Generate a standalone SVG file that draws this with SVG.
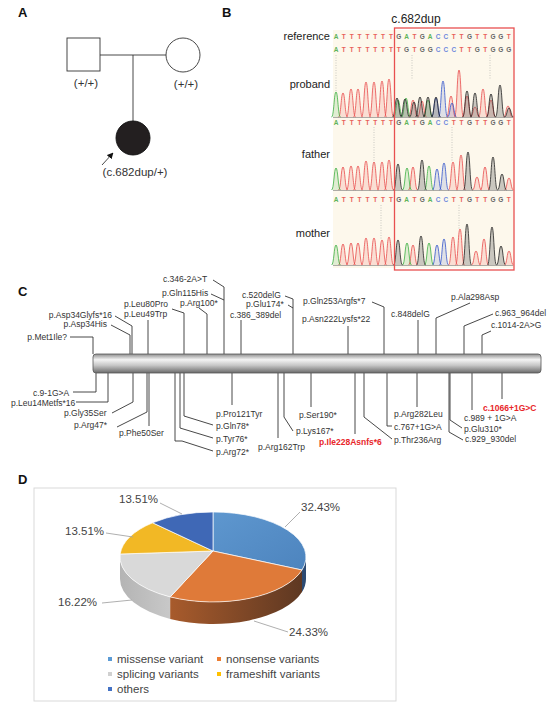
<svg xmlns="http://www.w3.org/2000/svg" width="550" height="707" viewBox="0 0 550 707">
<style>
text{font-family:"Liberation Sans",Arial,sans-serif}
.lbl{font-size:13px;font-weight:bold;fill:#111}
.ped{fill:none;stroke:#333;stroke-width:0.9}
.pt{font-size:11.5px;fill:#333}
.bt{font-size:11px;fill:#222}
.seq{font-size:6.5px;font-weight:bold;text-anchor:middle}
.A{fill:#5fb45a}.T{fill:#e8605a}.G{fill:#666}.C{fill:#7088dd}
.pg{fill:#3cb043;fill-opacity:.15;stroke:#3cb043;stroke-width:.8}
.pr{fill:#e84c4c;fill-opacity:.15;stroke:#e84c4c;stroke-width:.8}
.pk{fill:#555;fill-opacity:.3;stroke:#222;stroke-width:.8}
.pb{fill:#3355cc;fill-opacity:.15;stroke:#3355cc;stroke-width:.8}
.dot{stroke:#aaa;stroke-width:.6;stroke-dasharray:1 1.5}
.pc{font-size:8.5px;fill:#333}
.red{fill:#e8262a;font-weight:bold}
.ld{fill:none;stroke:#333;stroke-width:0.9}
.pl{font-size:11.5px;fill:#444}
.pld{fill:none;stroke:#a6a6a6;stroke-width:0.9}
.top{stroke:#fff;stroke-width:0.7}
</style>
<defs>
<linearGradient id="bar" x1="0" y1="0" x2="0" y2="1">
<stop offset="0" stop-color="#8e8e8e"/>
<stop offset="0.3" stop-color="#f4f4f4"/>
<stop offset="0.6" stop-color="#c6c6c6"/>
<stop offset="1" stop-color="#6a6a6a"/>
</linearGradient>
<linearGradient id="oside" x1="170" y1="0" x2="302" y2="0" gradientUnits="userSpaceOnUse">
<stop offset="0" stop-color="#a85b2c"/>
<stop offset="1" stop-color="#5e3822"/>
</linearGradient>
<linearGradient id="gside" x1="120" y1="0" x2="170" y2="0" gradientUnits="userSpaceOnUse">
<stop offset="0" stop-color="#b4b4b4"/>
<stop offset="1" stop-color="#c8c8c8"/>
</linearGradient>
<linearGradient id="btop" x1="0" y1="0" x2="1" y2="1">
<stop offset="0" stop-color="#5e97cf"/>
<stop offset="1" stop-color="#4d84be"/>
</linearGradient>
<marker id="ah" viewBox="0 0 10 10" refX="9" refY="5" markerWidth="7" markerHeight="7" orient="auto">
<path d="M0,0 L10,5 L0,10 z" fill="#111"/>
</marker>
</defs>
<rect width="550" height="707" fill="#fff"/>

<!-- Panel A -->
<text class="lbl" x="18" y="17">A</text>
<g id="connectors-A">
<path class="ped" d="M100,55 H166 M133,55 V121"/>
<path class="ped" d="M102,165 L113,153" marker-end="url(#ah)"/>
</g>
<g id="father-A"><rect class="ped" x="67" y="38" width="33" height="33"/><text class="pt" x="86" y="87" text-anchor="middle">(+/+)</text></g>
<g id="mother-A"><circle class="ped" cx="183" cy="55" r="17"/><text class="pt" x="186" y="88" text-anchor="middle">(+/+)</text></g>
<g id="proband-A"><circle cx="133" cy="138" r="17" fill="#231f20" stroke="#111" stroke-width="0.9"/><text class="pt" x="135" y="176" text-anchor="middle">(c.682dup/+)</text></g>

<!-- Panel B -->
<text class="lbl" x="222" y="17">B</text>
<g id="chromatogram">
<rect x="333" y="30" width="181" height="238" fill="#fdf8ec"/>
<text class="bt" x="330" y="40" text-anchor="end">reference</text>
<text class="bt" x="330" y="88" text-anchor="end">proband</text>
<text class="bt" x="330" y="158" text-anchor="end">father</text>
<text class="bt" x="330" y="237" text-anchor="end">mother</text>
<text x="416" y="23" font-size="12" fill="#222" text-anchor="middle">c.682dup</text>
<path class="dot" d="M336,55 V92 M412,55 V80 M490,55 V80 M374,127 V165 M452,127 V162 M381,205 V240 M459,205 V230"/>
<text class="seq" y="39"><tspan class="A" x="336">A</tspan><tspan class="T" x="343.85">T</tspan><tspan class="T" x="351.7">T</tspan><tspan class="T" x="359.55">T</tspan><tspan class="T" x="367.4">T</tspan><tspan class="T" x="375.25">T</tspan><tspan class="T" x="383.1">T</tspan><tspan class="T" x="390.95">T</tspan><tspan class="G" x="398.8">G</tspan><tspan class="A" x="406.65">A</tspan><tspan class="T" x="414.5">T</tspan><tspan class="G" x="422.35">G</tspan><tspan class="A" x="430.2">A</tspan><tspan class="C" x="438.05">C</tspan><tspan class="C" x="445.9">C</tspan><tspan class="T" x="453.75">T</tspan><tspan class="T" x="461.6">T</tspan><tspan class="G" x="469.45">G</tspan><tspan class="T" x="477.3">T</tspan><tspan class="T" x="485.15">T</tspan><tspan class="G" x="493">G</tspan><tspan class="G" x="500.85">G</tspan><tspan class="T" x="508.7">T</tspan></text>
<text class="seq" y="51.5"><tspan class="A" x="336">A</tspan><tspan class="T" x="343.85">T</tspan><tspan class="T" x="351.7">T</tspan><tspan class="T" x="359.55">T</tspan><tspan class="T" x="367.4">T</tspan><tspan class="T" x="375.25">T</tspan><tspan class="T" x="383.1">T</tspan><tspan class="T" x="390.95">T</tspan><tspan class="T" x="398.8">T</tspan><tspan class="G" x="406.65">G</tspan><tspan class="T" x="414.5">T</tspan><tspan class="G" x="422.35">G</tspan><tspan class="G" x="430.2">G</tspan><tspan class="C" x="438.05">C</tspan><tspan class="C" x="445.9">C</tspan><tspan class="C" x="453.75">C</tspan><tspan class="T" x="461.6">T</tspan><tspan class="T" x="469.45">T</tspan><tspan class="G" x="477.3">G</tspan><tspan class="T" x="485.15">T</tspan><tspan class="G" x="493">G</tspan><tspan class="G" x="500.85">G</tspan><tspan class="G" x="508.7">G</tspan></text>
<text class="seq" y="124.5"><tspan class="A" x="336">A</tspan><tspan class="T" x="343.85">T</tspan><tspan class="T" x="351.7">T</tspan><tspan class="T" x="359.55">T</tspan><tspan class="T" x="367.4">T</tspan><tspan class="T" x="375.25">T</tspan><tspan class="T" x="383.1">T</tspan><tspan class="T" x="390.95">T</tspan><tspan class="G" x="398.8">G</tspan><tspan class="A" x="406.65">A</tspan><tspan class="T" x="414.5">T</tspan><tspan class="G" x="422.35">G</tspan><tspan class="A" x="430.2">A</tspan><tspan class="C" x="438.05">C</tspan><tspan class="C" x="445.9">C</tspan><tspan class="T" x="453.75">T</tspan><tspan class="T" x="461.6">T</tspan><tspan class="G" x="469.45">G</tspan><tspan class="T" x="477.3">T</tspan><tspan class="T" x="485.15">T</tspan><tspan class="G" x="493">G</tspan><tspan class="G" x="500.85">G</tspan><tspan class="T" x="508.7">T</tspan></text>
<text class="seq" y="201.5"><tspan class="A" x="336">A</tspan><tspan class="T" x="343.85">T</tspan><tspan class="T" x="351.7">T</tspan><tspan class="T" x="359.55">T</tspan><tspan class="T" x="367.4">T</tspan><tspan class="T" x="375.25">T</tspan><tspan class="T" x="383.1">T</tspan><tspan class="T" x="390.95">T</tspan><tspan class="G" x="398.8">G</tspan><tspan class="A" x="406.65">A</tspan><tspan class="T" x="414.5">T</tspan><tspan class="G" x="422.35">G</tspan><tspan class="A" x="430.2">A</tspan><tspan class="C" x="438.05">C</tspan><tspan class="C" x="445.9">C</tspan><tspan class="T" x="453.75">T</tspan><tspan class="T" x="461.6">T</tspan><tspan class="G" x="469.45">G</tspan><tspan class="T" x="477.3">T</tspan><tspan class="T" x="485.15">T</tspan><tspan class="G" x="493">G</tspan><tspan class="G" x="500.85">G</tspan><tspan class="T" x="508.7">T</tspan></text>
<!-- proband peaks -->
<path class="pr" d="M338.5,117C341,117 341,93 343,93S345,117 347.5,117M346.5,117C349,117 349,89 351,89S353,117 355.5,117M353.5,117C356,117 356,89 358,89S360,117 362.5,117M361.5,117C364,117 364,82 366,82S368,117 370.5,117M369.5,117C372,117 372,82 374,82S376,117 378.5,117M377.5,117C380,117 380,81 382,81S384,117 386.5,117M384.5,117C387,117 387,79 389,79S391,117 393.5,117M408.5,117C411,117 411,100 413,100S415,117 417.5,117M417.5,117C420,117 420,101 422,101S424,117 426.5,117M446.5,117C449,117 449,96 451,96S453,117 455.5,117M454.5,117C457,117 457,70 459,70S461,117 463.5,117M462.5,117C465,117 465,96 467,96S469,117 471.5,117M470.5,117C473,117 473,107 475,107S477,117 479.5,117M478.5,117C481,117 481,89 483,89S485,117 487.5,117M486.5,117C489,117 489,100 491,100S493,117 495.5,117M503.5,117C506,117 506,106 508,106S510,117 512.5,117"/>
<path class="pg" d="M331.5,117C334,117 334,92 336,92S338,117 340.5,117M393.5,117C396,117 396,100 398,100S400,117 402.5,117M401.5,117C404,117 404,98 406,98S408,117 410.5,117M423.5,117C426,117 426,100 428,100S430,117 432.5,117"/>
<path class="pb" d="M431.5,117C434,117 434,98 436,98S438,117 440.5,117M438.5,117C441,117 441,81 443,81S445,117 447.5,117M447.5,117C450,117 450,103 452,103S454,117 456.5,117"/>
<path class="pk" d="M392.5,117C395,117 395,98 397,98S399,117 401.5,117M400.5,117C403,117 403,99 405,99S407,117 409.5,117M409.5,117C412,117 412,102 414,102S416,117 418.5,117M415.5,117C418,117 418,97 420,97S422,117 424.5,117M423.5,117C426,117 426,97 428,97S430,117 432.5,117M431.5,117C434,117 434,97 436,97S438,117 440.5,117M462.5,117C465,117 465,91 467,91S469,117 471.5,117M470.5,117C473,117 473,93 475,93S477,117 479.5,117M486.5,117C489,117 489,94 491,94S493,117 495.5,117M495.5,117C498,117 498,85 500,85S502,117 504.5,117M504.5,117C507,117 507,108 509,108S511,117 513.5,117"/>
<!-- father peaks -->
<path class="pr" d="M338.5,190C341,190 341,167 343,167S345,190 347.5,190M346.5,190C349,190 349,166 351,166S353,190 355.5,190M353.5,190C356,190 356,166 358,166S360,190 362.5,190M361.5,190C364,190 364,161 366,161S368,190 370.5,190M369.5,190C372,190 372,162 374,162S376,190 378.5,190M377.5,190C380,190 380,162 382,162S384,190 386.5,190M384.5,190C387,190 387,160 389,160S391,190 393.5,190M408.5,190C411,190 411,167 413,167S415,190 417.5,190M448.5,190C451,190 451,162 453,162S455,190 457.5,190M456.5,190C459,190 459,155 461,155S463,190 465.5,190M472.5,190C475,190 475,177 477,177S479,190 481.5,190M480.5,190C483,190 483,167 485,167S487,190 489.5,190M504.5,190C507,190 507,178 509,178S511,190 513.5,190"/>
<path class="pg" d="M331.5,190C334,190 334,168 336,168S338,190 340.5,190M402.5,190C405,190 405,168 407,168S409,190 411.5,190M424.5,190C427,190 427,166 429,166S431,190 433.5,190"/>
<path class="pk" d="M393.5,190C396,190 396,164 398,164S400,190 402.5,190M417.5,190C420,190 420,160 422,160S424,190 426.5,190M463.5,190C466,190 466,152 468,152S470,190 472.5,190M488.5,190C491,190 491,157 493,157S495,190 497.5,190M497.5,190C500,190 500,174 502,174S504,190 506.5,190"/>
<path class="pb" d="M432.5,190C435,190 435,169 437,169S439,190 441.5,190M439.5,190C442,190 442,163 444,163S446,190 448.5,190"/>
<!-- mother peaks -->
<path class="pr" d="M338.5,265C341,265 341,244 343,244S345,265 347.5,265M346.5,265C349,265 349,243 351,243S353,265 355.5,265M353.5,265C356,265 356,243 358,243S360,265 362.5,265M361.5,265C364,265 364,238 366,238S368,265 370.5,265M369.5,265C372,265 372,238 374,238S376,265 378.5,265M377.5,265C380,265 380,240 382,240S384,265 386.5,265M384.5,265C387,265 387,237 389,237S391,265 393.5,265M408.5,265C411,265 411,245 413,245S415,265 417.5,265M448.5,265C451,265 451,237 453,237S455,265 457.5,265M455.5,265C458,265 458,229 460,229S462,265 464.5,265M471.5,265C474,265 474,251 476,251S478,265 480.5,265M479.5,265C482,265 482,239 484,239S486,265 488.5,265M504.5,265C507,265 507,251 509,251S511,265 513.5,265"/>
<path class="pg" d="M331.5,265C334,265 334,245 336,245S338,265 340.5,265M402.5,265C405,265 405,243 407,243S409,265 411.5,265M424.5,265C427,265 427,243 429,243S431,265 433.5,265"/>
<path class="pk" d="M393.5,265C396,265 396,240 398,240S400,265 402.5,265M416.5,265C419,265 419,236 421,236S423,265 425.5,265M462.5,265C465,265 465,224 467,224S469,265 471.5,265M487.5,265C490,265 490,227 492,227S494,265 496.5,265M496.5,265C499,265 499,246 501,246S503,265 505.5,265"/>
<path class="pb" d="M432.5,265C435,265 435,245 437,245S439,265 441.5,265M439.5,265C442,265 442,239 444,239S446,265 448.5,265"/>
<path d="M333,117.5 H513 M333,190.5 H513 M333,265.5 H513" stroke="#777" stroke-width="0.6"/>
<rect x="394.5" y="28" width="119.5" height="242" fill="none" stroke="#e85050" stroke-width="1.3"/>
</g>

<!-- Panel C -->
<text class="lbl" x="18" y="296">C</text>
<g id="connectors-C">
<path class="ld" d="M70,337 H93 V354 M115,316 L132,326 V354 M111,325 L130,335 V354 M172,309 L184,313 V354 M148,320 V354 M213,280 L224,287 V354 M211,294 L224,300 M199,308 L207,314 V354 M241,320 V354 M285,296 L293,299 V354 M288,305 L293,308 M372,302 L384,307 V354 M348,326 V354 M418,320 V354 M470,303 L436,318 V354 M493,314 L464,326 V354 M491,331 L482,335 V354"/>
<path class="ld" d="M96,373 V392 H73 M108,373 V402 H76 M133,373 V402 L112,413 M147,373 V412 L117,427 M149,373 V426 M175,373 V441 H182 L213,451 M180,373 V428 L213,438 M184,373 V416 L213,425 M232,373 V405 M278,373 V438 M284,373 V417 L293,431 M311,373 V407 M355,373 V434 M364,373 V417 L392,439 M387,373 V426 H392 M417,373 V407 M450,373 V420 L462,428 M449,373 V432 L463,440 M472,373 V410 M502,373 V399"/>
</g>
<g id="gene-bar"><rect x="93" y="354" width="448" height="19" rx="3" fill="url(#bar)" stroke="#555" stroke-width="0.8"/></g>
<g id="variants-top">
<text class="pc" x="67" y="340" text-anchor="end">p.Met1Ile?</text>
<text class="pc" x="112" y="318" text-anchor="end">p.Asp34Glyfs*16</text>
<text class="pc" x="107" y="327" text-anchor="end">p.Asp34His</text>
<text class="pc" x="124" y="307">p.Leu80Pro</text>
<text class="pc" x="124" y="317">p.Leu49Trp</text>
<text class="pc" x="163" y="282">c.346-2A&gt;T</text>
<text class="pc" x="162" y="296">p.Gln115His</text>
<text class="pc" x="180" y="306">p.Arg100*</text>
<text class="pc" x="230" y="317.5">c.386_389del</text>
<text class="pc" x="242" y="298">c.520delG</text>
<text class="pc" x="246" y="307">p.Glu174*</text>
<text class="pc" x="303" y="304">p.Gln253Argfs*7</text>
<text class="pc" x="302" y="322">p.Asn222Lysfs*22</text>
<text class="pc" x="391" y="317">c.848delG</text>
<text class="pc" x="451" y="300">p.Ala298Asp</text>
<text class="pc" x="495" y="316">c.963_964del</text>
<text class="pc" x="491" y="328">c.1014-2A&gt;G</text>
</g>
<g id="variants-bottom">
<text class="pc" x="33" y="396">c.9-1G&gt;A</text>
<text class="pc" x="11" y="406">p.Leu14Metfs*16</text>
<text class="pc" x="64" y="416">p.Gly35Ser</text>
<text class="pc" x="74" y="428">p.Arg47*</text>
<text class="pc" x="119" y="436">p.Phe50Ser</text>
<text class="pc" x="216" y="417">p.Pro121Tyr</text>
<text class="pc" x="216" y="429">p.Gln78*</text>
<text class="pc" x="216" y="442">p.Tyr76*</text>
<text class="pc" x="216" y="455">p.Arg72*</text>
<text class="pc" x="258" y="450">p.Arg162Trp</text>
<text class="pc" x="296" y="434">p.Lys167*</text>
<text class="pc" x="299" y="418">p.Ser190*</text>
<text class="pc red" x="319" y="445">p.Ile228Asnfs*6</text>
<text class="pc" x="394" y="417">p.Arg282Leu</text>
<text class="pc" x="394" y="430">c.767+1G&gt;A</text>
<text class="pc" x="394" y="443">p.Thr236Arg</text>
<text class="pc" x="464" y="421">c.989 + 1G&gt;A</text>
<text class="pc" x="464" y="432">p.Glu310*</text>
<text class="pc" x="465" y="442">c.929_930del</text>
<text class="pc red" x="483" y="411">c.1066+1G&gt;C</text>
</g>

<!-- Panel D -->
<text class="lbl" x="18" y="484">D</text>
<g id="pie-chart">
<rect x="34" y="488" width="362" height="213" fill="#fff" stroke="#d9d9d9" stroke-width="1"/>
<path d="M120,557 A93,45 0 0,0 170.2,596.9 V618.9 A93,45 0 0,1 120,579 Z" fill="url(#gside)"/>
<path d="M170.2,596.9 A93,45 0 0,0 302,570 V592 A93,45 0 0,1 170.2,618.9 Z" fill="url(#oside)"/>
<path d="M302,570 A93,45 0 0,0 306,557 V579 A93,45 0 0,1 302,592 Z" fill="#2c4a72"/>
<path class="top" d="M213,551 L213,512 A93,45 0 0,1 302,570 Z" fill="url(#btop)"/>
<path class="top" d="M213,551 L302,570 A93,45 0 0,1 170.2,596.9 Z" fill="#df7a39"/>
<path class="top" d="M213,551 L170.2,596.9 A93,45 0 0,1 120.2,554 Z" fill="#d9d9d9"/>
<path class="top" d="M213,551 L120.2,554 A93,45 0 0,1 152.6,522.8 Z" fill="#f2b825"/>
<path class="top" d="M213,551 L152.6,522.8 A93,45 0 0,1 213,512 Z" fill="#3f68b6"/>
<path class="pld" d="M285,527 L300,512 M254,621 L288,632 M102,603 L132,600 M106,533 L133,537 M160,503 L182,514"/>
<text class="pl" x="301" y="511">32.43%</text>
<text class="pl" x="289" y="636">24.33%</text>
<text class="pl" x="58" y="606">16.22%</text>
<text class="pl" x="65" y="535">13.51%</text>
<text class="pl" x="119" y="503">13.51%</text>
<rect x="108" y="657" width="4" height="4" fill="#5b9bd5"/><text class="pl" x="117" y="663">missense variant</text>
<rect x="217" y="657" width="4" height="4" fill="#ed7d31"/><text class="pl" x="226" y="663">nonsense variants</text>
<rect x="108" y="672" width="4" height="4" fill="#d0d0d0"/><text class="pl" x="117" y="678">splicing variants</text>
<rect x="217" y="672" width="4" height="4" fill="#ffc000"/><text class="pl" x="226" y="678">frameshift variants</text>
<rect x="108" y="687" width="4" height="4" fill="#4472c4"/><text class="pl" x="117" y="693">others</text>
</g>
</svg>
